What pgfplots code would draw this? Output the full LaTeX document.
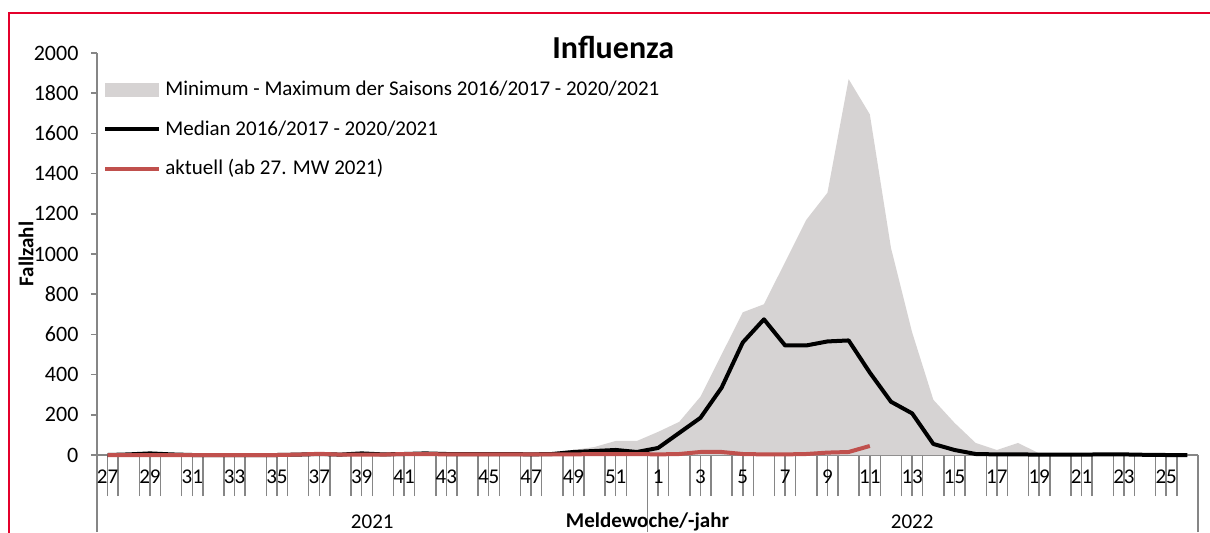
\documentclass[border=0pt]{standalone}
\usepackage{fontspec}
\setmainfont{Carlito}
\usepackage{pgfplots}
\pgfplotsset{compat=1.18}
\usepackage{pgfplotstable}
\definecolor{band}{RGB}{214,211,211}
\definecolor{cur}{RGB}{192,80,77}
\definecolor{axgray}{RGB}{134,134,134}
\definecolor{frame}{RGB}{228,0,43}
\pgfplotsset{
  lineleg/.style={legend image code/.code={\draw[##1] (0pt,0pt) -- (27pt,0pt);}},
  arealeg/.style={legend image code/.code={\fill[band] (0pt,-3.5pt) rectangle (27pt,3.5pt);}},
}

\pgfplotstableread{
x max med
0 5 0
1 5 3
2 10 8
3 5 3
4 5 0
5 3 0
6 3 0
7 3 0
8 5 0
9 5 2
10 10 5
11 5 2
12 10 8
13 5 3
14 10 5
15 10 8
16 10 5
17 10 5
18 10 5
19 10 5
20 12 3
21 15 5
22 25 15
23 40 20
24 70 25
25 70 15
26 115 35
27 165 110
28 290 185
29 500 335
30 710 560
31 750 675
32 960 545
33 1170 545
34 1305 565
35 1870 570
36 1695 410
37 1030 265
38 610 207
39 275 55
40 160 25
41 60 5
42 25 3
43 60 3
44 8 2
45 5 2
46 5 2
47 5 3
48 5 3
49 3 1
50 2 0
51 2 0
}\data

\pgfplotstableread{
x cur
0 0
1 0
2 0
3 0
4 0
5 0
6 0
7 0
8 0
9 2
10 6
11 2
12 2
13 2
14 5
15 5
16 3
17 3
18 3
19 3
20 3
21 3
22 3
23 5
24 5
25 5
26 3
27 5
28 15
29 15
30 5
31 3
32 3
33 5
34 12
35 15
36 45
}\curdata

\begin{document}
\begin{tikzpicture}
\path[use as bounding box] (0,0) rectangle (605pt,266pt);
\draw[frame, line width=1pt] (4.5pt,-1pt) -- (4.5pt,259.75pt) -- (606pt,259.75pt);
\begin{axis}[
  at={(48.5pt,38.5pt)}, anchor=south west,
  scale only axis, width=550.5pt, height=201pt,
  xmin=-0.5, xmax=51.5, ymin=0, ymax=2000,
  axis lines=left,
  axis line style={axgray, line width=0.75pt, -},
  clip=false,
  tick align=outside,
  ytick={0,200,...,2000},
  y tick style={axgray, line width=0.75pt, /pgfplots/major tick length=3pt},
  yticklabel style={font=\fontsize{11}{13}\selectfont, xshift=-1.5pt},
  /pgf/number format/assume math mode=true,
  /pgf/number format/1000 sep={},
  xtick={-0.5,0.5,...,51.5},
  xticklabels={},
  x tick style={axgray, line width=0.75pt, /pgfplots/major tick length=20.5pt},
  minor xtick={-0.5,25.5,51.5},
  minor tick length=38.5pt,
  minor x tick style={axgray, line width=0.75pt},
  extra x ticks={0,2,...,50},
  extra x tick labels={27,29,31,33,35,37,39,41,43,45,47,49,51,1,3,5,7,9,11,13,15,17,19,21,23,25},
  extra x tick style={/pgfplots/major tick length=0pt, xticklabel style={font=\fontsize{10.5}{12}\selectfont, anchor=north, yshift=-4pt}},
  title={Influenza},
  title style={font=\bfseries\fontsize{16}{19}\selectfont, at={(axis description cs:0.469,0.985)}, anchor=center},
  xlabel={Meldewoche/-jahr},
  xlabel style={font=\bfseries\fontsize{10.5}{12}\selectfont, at={(axis description cs:0.5,-0.1667)}, anchor=center},
  ylabel={Fallzahl},
  ylabel style={font=\bfseries\fontsize{10.5}{12}\selectfont, at={(axis description cs:-0.0645,0.5)}, anchor=center},
  legend style={at={(axis description cs:0,1)}, anchor=north west, xshift=3pt, yshift=-12pt,
    draw=none, fill=none, font=\fontsize{10.5}{12}\selectfont, row sep=6.75pt, inner sep=0pt},
  legend cell align=left,
]
\addplot[fill=band, draw=none, arealeg]
  table[x=x, y=max]{\data} \closedcycle;
\addlegendentry{Minimum - Maximum der Saisons 2016/2017 - 2020/2021}
\addplot[black, line width=2pt, line join=round, lineleg]
  table[x=x, y=med]{\data};
\addlegendentry{Median 2016/2017 - 2020/2021}
\addplot[cur, line width=2pt, line join=round, lineleg]
  table[x=x, y=cur]{\curdata};
\addlegendentry{aktuell (ab 27. MW 2021)}
\node[font=\fontsize{10.5}{12}\selectfont] at (axis cs:12.5,0) [yshift=-33.5pt] {2021};
\node[font=\fontsize{10.5}{12}\selectfont] at (axis cs:38,0) [yshift=-33.5pt] {2022};
\end{axis}
\end{tikzpicture}
\end{document}
